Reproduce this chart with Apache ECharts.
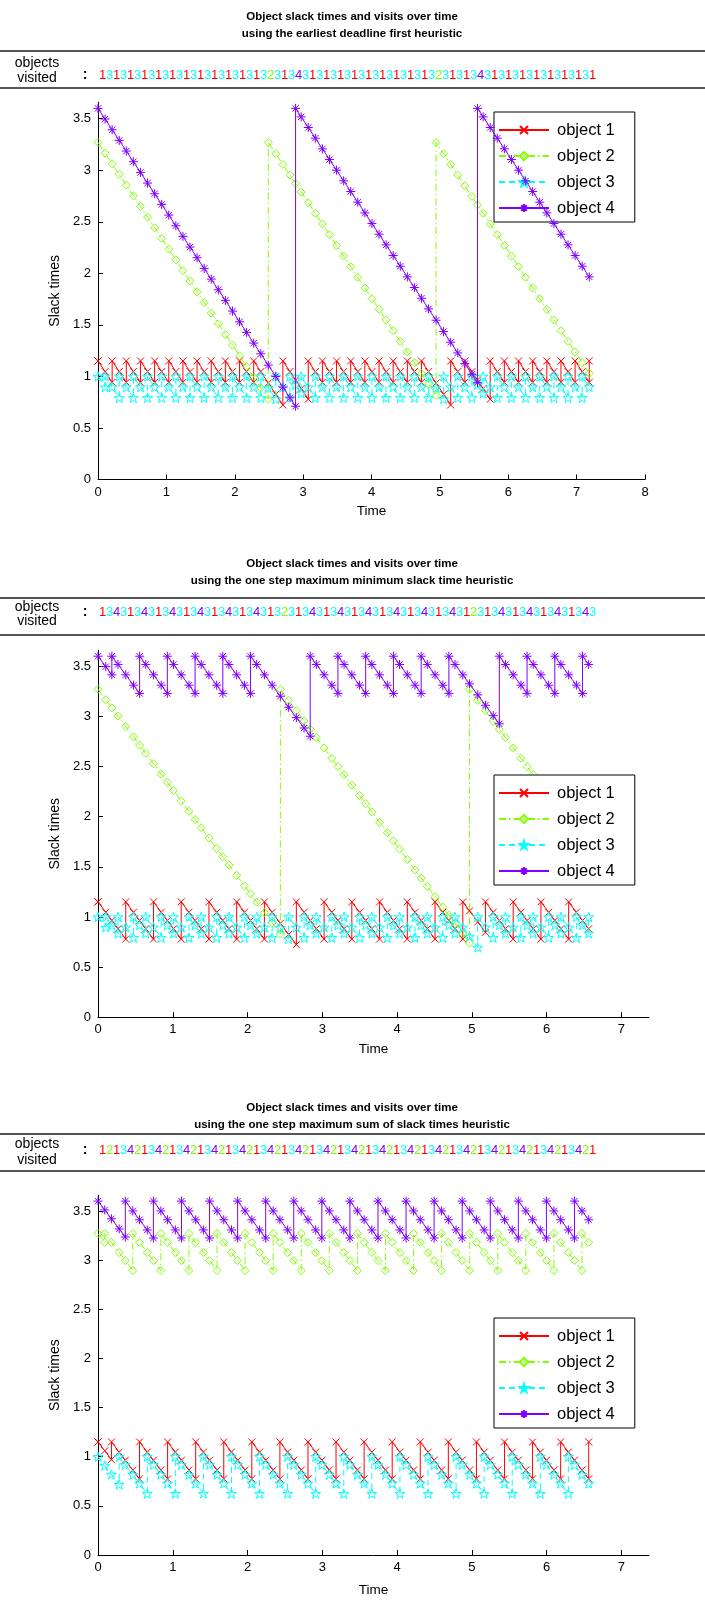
<!DOCTYPE html>
<html>
<head>
<meta charset="utf-8">
<script src="https://cdn.jsdelivr.net/npm/echarts@6/dist/echarts.min.js"></script>
<style>
html,body{margin:0;padding:0;background:#fff}
#main{width:705px;height:1600px}
</style>
</head>
<body>
<div id="main"></div>
<script>
var seqEDF = [1,3,1,3,1,3,1,3,1,3,1,3,1,3,1,3,1,3,1,3,1,3,1,3,
              2,3,1,3,4,3,
              1,3,1,3,1,3,1,3,1,3,1,3,1,3,1,3,1,3,
              2,3,1,3,1,3,4,3,
              1,3,1,3,1,3,1,3,1,3,1,3,1,3,1];
var seqMaxMin = [1,3,4,3,1,3,4,3,1,3,4,3,1,3,4,3,1,3,4,3,1,3,4,3,
                 1,3,2,3,
                 1,3,4,3,1,3,4,3,1,3,4,3,1,3,4,3,1,3,4,3,1,3,4,3,
                 1,2,3,
                 1,3,4,3,1,3,4,3,1,3,4,3,1,3,4,3];
var seqMaxSum = [1,2,
                 1,3,4,2,1,3,4,2,1,3,4,2,1,3,4,2,1,3,4,2,1,3,4,2,
                 1,3,4,2,1,3,4,2,1,3,4,2,1,3,4,2,1,3,4,2,1,3,4,2,
                 1,3,4,2,1,3,4,2,1,3,4,2,1,3,4,2,1,3,4,2,
                 1];

// slack time of each object right after a visit
var slackMax = [1.15, 3.27, 1.0, 3.6];
// travel times between objects
var travel = {'1-2': 0.09, '1-3': 0.1035, '2-3': 0.11, '2-4': 0.10, '3-4': 0.082, '1-4': 0.15};

var objNames = ['object 1', 'object 2', 'object 3', 'object 4'];
var objColors = ['#ff0000', '#80ff00', '#00ffff', '#8000ff'];
var yTicks = [0, 0.5, 1, 1.5, 2, 2.5, 3, 3.5];
var xTicks8 = [0, 1, 2, 3, 4, 5, 6, 7, 8];
var xTicks7 = [0, 1, 2, 3, 4, 5, 6, 7];

var titleTop = 'Object slack times and visits over time';
var panels = [
  {seq: seqEDF, sub: 'using the earliest deadline first heuristic', titleY: 17,
   rule1: 51, rule2: 88, objY: 63.5, visY: 78.5, digY: 75, timeGap: 25,
   grid: {left: 98, top: 102.2, width: 547, height: 377.3}, xMax: 8, xTicks: xTicks8, legendTop: 112},
  {seq: seqMaxMin, sub: 'using the one step maximum minimum slack time heuristic', titleY: 564,
   rule1: 598, rule2: 635, objY: 607, visY: 621, digY: 612, timeGap: 25,
   grid: {left: 98, top: 650.2, width: 551, height: 367}, xMax: 7.37, xTicks: xTicks7, legendTop: 775},
  {seq: seqMaxSum, sub: 'using the one step maximum sum of slack times heuristic', titleY: 1108,
   rule1: 1134, rule2: 1171, objY: 1144, visY: 1160, digY: 1150, timeGap: 28,
   grid: {left: 98, top: 1195.2, width: 551, height: 359.8}, xMax: 7.37, xTicks: xTicks7, legendTop: 1318}
];

function travelTime(a, b) {
  var k = Math.min(a, b) + '-' + Math.max(a, b);
  return travel[k];
}

// slack of every object sampled at every visit, with the jump back up at the visited one
function slackLines(seq) {
  var t = 0, last = [0, 0, 0, 0], out = [[], [], [], []];
  for (var k = 0; k < seq.length; k++) {
    if (k > 0) t += travelTime(seq[k - 1], seq[k]);
    for (var j = 0; j < 4; j++) {
      out[j].push([t, slackMax[j] - (t - last[j])]);
      if (seq[k] === j + 1) {
        last[j] = t;
        out[j].push([t, slackMax[j]]);
      }
    }
  }
  return out;
}

var starPath = 'path://M50,0 L61.23,34.55 L97.55,34.55 L68.16,55.9 L79.39,90.45 L50,69.1 L20.61,90.45 L31.84,55.9 L2.45,34.55 L38.77,34.55 Z';
var symbols = ['path://M0,0 L10,10 M10,0 L0,10', 'path://M5,0 L10,5 L5,10 L0,5 Z', starPath,
               'path://M5,0 L5,10 M0,5 L10,5 M1.5,1.5 L8.5,8.5 M8.5,1.5 L1.5,8.5'];
var symSizes = [7, 8, 10, 9];
var dashes = ['solid', [7, 3, 1.5, 3], [6, 4], 'solid'];

var font = '"Liberation Sans", Arial, Helvetica, sans-serif';
var grids = [], xAxes = [], yAxes = [], series = [], legends = [], graphics = [];

function addText(x, y, text, f, color, align) {
  graphics.push({type: 'text', x: x, y: y, silent: true,
    style: {text: text, font: f, fill: color, textAlign: align, align: align,
      textVerticalAlign: 'middle', verticalAlign: 'middle'}});
}

panels.forEach(function (p, i) {
  grids.push(p.grid);
  addText(352, p.titleY, titleTop, 'bold 11.5px ' + font, '#000', 'center');
  addText(352, p.titleY + 16.5, p.sub, 'bold 11.5px ' + font, '#000', 'center');
  xAxes.push({
    type: 'value', gridIndex: i, min: 0, max: p.xMax,
    name: 'Time', nameLocation: 'middle', nameGap: p.timeGap,
    nameTextStyle: {fontSize: 13.5, color: '#000', fontFamily: font},
    axisLine: {lineStyle: {color: '#000', width: 1}},
    axisTick: {inside: true, length: 5, lineStyle: {color: '#000'}, customValues: p.xTicks},
    axisLabel: {fontSize: 13, color: '#000', fontFamily: font, margin: 6, customValues: p.xTicks},
    splitLine: {show: false}
  });
  yAxes.push({
    type: 'value', gridIndex: i, min: 0, max: 3.66,
    name: 'Slack times', nameLocation: 'middle', nameGap: 34, nameRotate: 90,
    nameTextStyle: {fontSize: 14, color: '#000', fontFamily: font},
    axisLine: {show: true, lineStyle: {color: '#000', width: 1}},
    axisTick: {show: true, inside: true, length: 5, lineStyle: {color: '#000'}, customValues: yTicks},
    axisLabel: {fontSize: 13, color: '#000', fontFamily: font, margin: 7, customValues: yTicks},
    splitLine: {show: false}
  });
  var lines = slackLines(p.seq);
  for (var j = 0; j < 4; j++) {
    series.push({
      name: objNames[j], type: 'line', xAxisIndex: i, yAxisIndex: i,
      data: lines[j], symbol: symbols[j], symbolSize: symSizes[j], symbolKeepAspect: true,
      lineStyle: {color: objColors[j], width: 1, type: dashes[j]},
      itemStyle: {color: 'rgba(0,0,0,0)', borderColor: objColors[j], borderWidth: 1},
      z: 2 + j, animation: false, emphasis: {disabled: true}
    });
  }
  legends.push({
    data: objNames, orient: 'vertical', left: 494, top: p.legendTop,
    itemWidth: 50, itemHeight: 10, itemGap: 8, padding: [9, 20, 5, 4],
    borderColor: '#000', borderWidth: 1, backgroundColor: '#fff',
    itemStyle: {color: 'rgba(0,0,0,0)'},
    textStyle: {fontSize: 16.5, lineHeight: 18, color: '#000', fontFamily: font, padding: [0, 0, 0, 3]},
    selectedMode: false
  });
  // header rows
  [p.rule1, p.rule2].forEach(function (y) {
    graphics.push({type: 'line', shape: {x1: 0, y1: y, x2: 705, y2: y},
      style: {stroke: '#555', lineWidth: 2}, silent: true});
  });
  addText(37, p.objY, 'objects', '14px ' + font, '#000', 'center');
  addText(37, p.visY, 'visited', '14px ' + font, '#000', 'center');
  addText(85, p.digY, ':', 'bold 14px ' + font, '#000', 'center');
  p.seq.forEach(function (d, k) {
    addText(99 + 7.0 * k, p.digY, String(d), '13px ' + font, objColors[d - 1], 'left');
  });
});

var chart = echarts.init(document.getElementById('main'), null, {renderer: 'canvas'});
chart.setOption({
  backgroundColor: '#fff',
  animation: false,
  grid: grids,
  xAxis: xAxes,
  yAxis: yAxes,
  legend: legends,
  series: series,
  graphic: {elements: graphics}
});
</script>
</body>
</html>
